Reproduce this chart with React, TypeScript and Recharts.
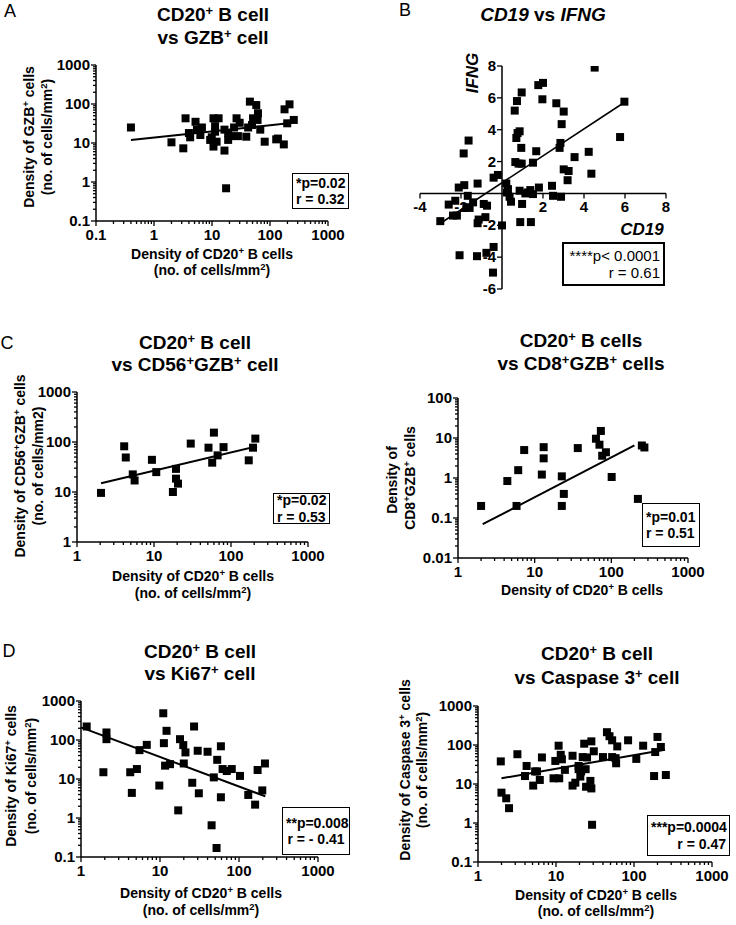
import React from "react"
import { ScatterChart, Scatter, XAxis, YAxis, ZAxis, ReferenceLine } from "recharts"

const FONT = '"Liberation Sans", Arial, Helvetica, sans-serif'

// A: CD20+ B cell vs GZB+ cell
const aCd20 = [0.4, 2.0, 3.2, 3.5, 4.0, 4.2, 5.2, 5.5, 6.3, 6.7, 9.3, 9.9, 10.6, 10.6, 11.3, 11.3, 12, 13, 16.4, 16.4, 19, 19, 21, 24, 26.5, 28, 30, 39, 45, 42, 49, 51, 58, 62, 61, 68, 81, 128, 137, 178, 217, 173, 198, 257, 17.5]
const aGzb = [25, 10.4, 7.3, 43, 18, 14, 35, 22, 16, 25, 12, 14, 43, 8.1, 27, 19.5, 10.8, 43, 6.4, 22, 18, 12, 15, 25, 43, 15, 33, 14.5, 115, 25, 29, 43, 94, 58, 39, 22, 10.8, 12.4, 13, 73, 98, 9.2, 32, 39, 0.69]
const aFitX = [0.4, 250]
const aFitY = [12, 33]
const aDecX = [0.1, 1, 10, 100, 1000]
const aDecY = [0.1, 1, 10, 100, 1000]

// B: CD19 vs IFNG
const bCd19 = [-3.01, -2.6, -2.39, -2.2, -2.28, -2.11, -2.07, -1.87, -1.84, -1.74, -1.67, -1.63, -1.58, -1.41, -1.19, -1.19, -1.14, -1.22, -0.89, -0.81, -0.76, -0.73, -0.41, -0.41, -0.44, -0.2, 0, 0.21, 0.24, 0.29, 0.37, 0.44, 0.62, 0.65, 0.73, 0.7, 0.76, 0.86, 0.81, 0.86, 0.89, 0.96, 0.94, 0.96, 0.98, 1.14, 1.27, 1.38, 1.41, 1.51, 1.51, 1.67, 1.77, 1.8, 2.0, 1.97, 2.44, 2.49, 2.65, 2.81, 2.85, 2.88, 2.91, 3.01, 3.01, 3.2, 3.25, 3.54, 4.23, 4.36, 4.52, 5.76, 5.97]
const bIfng = [-1.74, -0.7, -1.39, -1.39, -0.46, 0.37, -3.88, 2.51, 0.52, -0.87, -0.15, 3.32, -0.91, -0.56, 0.62, -1.87, -1.64, -3.94, -0.66, -1.49, -3.73, -0.77, 0.99, -3.36, -4.97, 1.16, -2.01, 0.62, 0.06, 0.27, -0.21, -0.52, 5.2, 1.97, 5.8, 3.48, 3.79, 3.9, 1.87, 0.17, -1.8, 6.34, 2.86, 1.87, -0.66, 0, 0.06, 0.21, -1.8, 1.93, -0.04, 2.65, 6.8, 0.37, 6.94, 5.91, 0.48, -0.15, 5.66, 2.86, 3.17, -0.21, 4.35, 5.14, 1.51, 0.83, 1.41, 2.28, 2.61, 1.24, 7.9, 3.54, 5.76]
const bFitX = [-3.0, 6.07]
const bFitY = [-1.87, 5.8]
const bTicksX = [-4, -2, 2, 4, 6, 8]
const bTicksY = [8, 6, 4, 2, -2, -4, -6]

// C left: CD20+ vs CD56+GZB+
const cCd20 = [2.05, 4.1, 4.3, 5.3, 5.6, 9.4, 10.7, 17.6, 19.3, 19.3, 20.5, 30, 51, 57, 60, 67, 80, 170, 193, 207]
const cCd56 = [9.6, 82, 49, 22.5, 17, 44, 25, 10, 29, 18.5, 14.7, 93, 77, 38.6, 154, 54, 79, 43, 77, 117]
const cFitX = [2.05, 218]
const cFitY = [15, 82]
const cDecX = [1, 10, 100, 1000]
const cDecY = [1, 10, 100, 1000]

// C right: CD20+ vs CD8+GZB+
const c2Cd20 = [2.0, 4.4, 5.8, 6.1, 7.3, 12.4, 13.1, 13.1, 22.6, 22.6, 24, 36.5, 63, 70, 73, 76, 85, 101, 222, 250, 270]
const c2Cd8 = [0.2, 0.84, 0.2, 1.57, 5.0, 1.22, 5.9, 3.1, 1.1, 0.2, 0.4, 5.6, 9.6, 6.8, 15, 3.6, 4.4, 1.06, 0.3, 6.5, 5.8]
const c2FitX = [2.1, 200]
const c2FitY = [0.07, 6.5]
const c2DecX = [1, 10, 100, 1000]
const c2DecY = [0.01, 0.1, 1, 10, 100]

// D left: CD20+ vs Ki67+
const dCd20 = [1.18, 1.92, 2.1, 2.1, 4.2, 4.4, 5.1, 5.5, 6.8, 9.8, 11, 11.2, 11.6, 12.1, 13.4, 17, 17.9, 19.7, 20, 21, 25.6, 27, 30, 31, 40, 45, 48, 53, 59, 59, 62, 70, 81, 103, 131, 160, 172, 197, 213, 52]
const dKi67 = [222, 14.9, 156, 105, 14.9, 4.4, 18, 55, 75, 6.8, 485, 83, 22, 172, 24, 1.57, 105, 74, 25, 48, 8, 222, 53, 4.3, 50, 0.65, 11, 31, 69, 3.4, 18, 16, 18, 12, 3.9, 2.2, 17, 5.1, 25, 0.17]
const dFitX = [1, 215]
const dFitY = [210, 3.6]
const dDecX = [1, 10, 100, 1000]
const dDecY = [0.1, 1, 10, 100, 1000]

// D right: CD20+ vs Caspase 3+
const eCd20 = [1.96, 2.0, 2.3, 2.5, 3.2, 4.2, 4.0, 5.1, 5.4, 5.7, 6.2, 6.6, 9.3, 9.8, 10.8, 11, 11.5, 11.9, 13, 16.3, 16.3, 17.7, 19.5, 19.5, 20.5, 21, 22, 23, 24, 24.3, 25, 27.6, 28.4, 28.4, 29, 30.5, 40, 45, 48.5, 52.5, 52.5, 58, 59, 61, 84, 107, 131, 181, 187, 200, 221, 256]
const eCasp = [38, 6.0, 4.3, 2.4, 58, 29, 16, 9.1, 21, 21, 12.7, 48, 14, 39, 96, 14, 56, 43, 23, 53, 9.1, 10.8, 24, 29, 15.5, 21, 49, 108, 24, 8.5, 48, 12, 124, 7.7, 0.9, 69, 49, 213, 168, 132, 49, 46, 34, 92, 132, 44, 96, 16, 66, 161, 89, 17]
const eFitX = [2, 250]
const eFitY = [14, 76]
const eDecX = [1, 10, 100, 1000]
const eDecY = [0.1, 1, 10, 100, 1000]

const YW = 60
const MT = 12
const MR = 20
const XH = 40
const TICK_FONT = 15

function zip(xs: number[], ys: number[]) {
	return xs.map((x, i) => ({ x, y: ys[i] }))
}

function logTicks(decades: number[]) {
	const out: number[] = []
	decades.forEach((d, i) => {
		out.push(d)
		if (i < decades.length - 1) {
			for (let m = 2; m <= 9; m++) out.push(Number((d * m).toPrecision(4)))
		}
	})
	return out
}

function isDecade(v: number) {
	const l = Math.log10(v)
	return Math.abs(l - Math.round(l)) < 1e-6
}

function XLogTick(props: any) {
	const { x, y, payload } = props
	const major = isDecade(payload.value)
	return (
		<g>
			<line x1={x} x2={x} y1={y} y2={y + (major ? 5 : 3)} stroke="#000" strokeWidth={1.3} />
			{major && (
				<text x={x} y={y + 19} textAnchor="middle" fontSize={TICK_FONT} fontWeight="bold" fontFamily={FONT} fill="#000">
					{String(payload.value)}
				</text>
			)}
		</g>
	)
}

function YLogTick(props: any) {
	const { x, y, payload } = props
	const major = isDecade(payload.value)
	return (
		<g>
			<line x1={x} x2={x - (major ? 5 : 3)} y1={y} y2={y} stroke="#000" strokeWidth={1.3} />
			{major && (
				<text x={x - 6} y={y + 5} textAnchor="end" fontSize={TICK_FONT} fontWeight="bold" fontFamily={FONT} fill="#000">
					{String(payload.value)}
				</text>
			)}
		</g>
	)
}

type LogPanelProps = {
	left: number
	top: number
	width: number
	height: number
	xDec: number[]
	yDec: number[]
	points: { x: number; y: number }[]
	fit: { x: number; y: number }[]
}

function LogPanel({ left, top, width, height, xDec, yDec, points, fit }: LogPanelProps) {
	return (
		<div style={{ position: "absolute", left: left - YW, top: top - MT }}>
			<ScatterChart width={width + YW + MR} height={height + MT + XH} margin={{ top: MT, right: MR, bottom: 0, left: 0 }}>
				<XAxis
					type="number"
					dataKey="x"
					scale="log"
					domain={[xDec[0], xDec[xDec.length - 1]]}
					ticks={logTicks(xDec)}
					interval={0}
					allowDataOverflow
					height={XH}
					tickSize={0}
					tickMargin={0}
					tickLine={false}
					axisLine={{ stroke: "#000", strokeWidth: 1.5 }}
					tick={XLogTick}
				/>
				<YAxis
					type="number"
					dataKey="y"
					scale="log"
					domain={[yDec[0], yDec[yDec.length - 1]]}
					ticks={logTicks(yDec)}
					interval={0}
					allowDataOverflow
					width={YW}
					tickSize={0}
					tickMargin={0}
					tickLine={false}
					axisLine={{ stroke: "#000", strokeWidth: 1.5 }}
					tick={YLogTick}
				/>
				<ZAxis range={[38, 38]} />
				<Scatter data={points} fill="#000" shape="square" isAnimationActive={false} />
				<ReferenceLine segment={fit} stroke="#000" strokeWidth={2} ifOverflow="visible" />
			</ScatterChart>
		</div>
	)
}

function BPanel() {
	const left = 420
	const top = 66
	const w = 246
	const h = 223
	const zeroY = MT + (8 / 14) * h
	const zeroX = YW + (4 / 12) * w
	return (
		<div style={{ position: "absolute", left: left - YW, top: top - MT }}>
			<ScatterChart width={w + YW + MR} height={h + MT + XH} margin={{ top: MT, right: MR, bottom: 0, left: 0 }}>
				<XAxis
					type="number"
					dataKey="x"
					domain={[-4, 8]}
					ticks={bTicksX}
					interval={0}
					allowDataOverflow
					height={XH}
					axisLine={false}
					tickLine={false}
					tickSize={0}
					tickMargin={0}
					tick={(p: any) => (
						<g>
							<line x1={p.x} x2={p.x} y1={zeroY} y2={zeroY + 5} stroke="#000" strokeWidth={1.3} />
							<text x={p.x} y={zeroY + 19} textAnchor="middle" fontSize={TICK_FONT} fontWeight="bold" fontFamily={FONT} fill="#000">
								{String(p.payload.value)}
							</text>
						</g>
					)}
				/>
				<YAxis
					type="number"
					dataKey="y"
					domain={[-6, 8]}
					ticks={bTicksY}
					interval={0}
					allowDataOverflow
					width={YW}
					axisLine={false}
					tickLine={false}
					tickSize={0}
					tickMargin={0}
					tick={(p: any) => (
						<g>
							<line x1={zeroX} x2={zeroX - 5} y1={p.y} y2={p.y} stroke="#000" strokeWidth={1.3} />
							<text x={zeroX - 6} y={p.y + 5} textAnchor="end" fontSize={TICK_FONT} fontWeight="bold" fontFamily={FONT} fill="#000">
								{String(p.payload.value)}
							</text>
						</g>
					)}
				/>
				<ZAxis range={[38, 38]} />
				<ReferenceLine y={0} stroke="#000" strokeWidth={1.5} />
				<ReferenceLine x={0} stroke="#000" strokeWidth={1.5} />
				<Scatter data={zip(bCd19, bIfng)} fill="#000" shape="square" isAnimationActive={false} />
				<ReferenceLine segment={zip(bFitX, bFitY)} stroke="#000" strokeWidth={1.6} ifOverflow="visible" />
			</ScatterChart>
		</div>
	)
}

type TxtProps = {
	x: number
	y: number
	size?: number
	bold?: boolean
	italic?: boolean
	rotate?: boolean
	children: React.ReactNode
}

function Txt({ x, y, size = 14, bold = true, italic = false, rotate = false, children }: TxtProps) {
	return (
		<div
			style={{
				position: "absolute",
				left: x,
				top: y,
				transform: `translate(-50%, -50%)${rotate ? " rotate(-90deg)" : ""}`,
				fontSize: size,
				fontWeight: bold ? 700 : 400,
				fontStyle: italic ? "italic" : "normal",
				whiteSpace: "nowrap",
				lineHeight: 1,
				fontFamily: FONT,
				color: "#000",
			}}
		>
			{children}
		</div>
	)
}

const Sup = ({ children }: { children: React.ReactNode }) => (
	<span style={{ fontSize: "0.68em", position: "relative", top: "-0.5em" }}>{children}</span>
)

type BoxProps = {
	x: number
	y: number
	w: number
	h: number
	lines: string[]
	align?: "left" | "right" | "center"
	size?: number
	bold?: boolean
	border?: number
}

function StatBox({ x, y, w, h, lines, align = "left", size = 14, bold = true, border = 1.5 }: BoxProps) {
	return (
		<div
			style={{
				position: "absolute",
				left: x,
				top: y,
				width: w,
				height: h,
				boxSizing: "border-box",
				border: `${border}px solid #000`,
				background: "#fff",
				display: "flex",
				flexDirection: "column",
				justifyContent: "center",
				padding: "0 3px",
				textAlign: align,
				fontSize: size,
				fontWeight: bold ? 700 : 400,
				fontFamily: FONT,
				lineHeight: 1.15,
				whiteSpace: "pre",
			}}
		>
			{lines.map((l) => (
				<div key={l}>{l}</div>
			))}
		</div>
	)
}

export default function App() {
	return (
		<div style={{ position: "absolute", left: 0, top: 0, width: 736, height: 925, background: "#fff", overflow: "hidden" }}>
			{/* A */}
			<LogPanel left={96} top={65} width={232} height={156} xDec={aDecX} yDec={aDecY} points={zip(aCd20, aGzb)} fit={zip(aFitX, aFitY)} />
			<Txt x={10} y={11} size={18} bold={false}>A</Txt>
			<Txt x={213} y={14} size={19}>CD20<Sup>+</Sup> B cell</Txt>
			<Txt x={213} y={37} size={19}>vs GZB<Sup>+</Sup> cell</Txt>
			<Txt x={29} y={137} rotate>Density of GZB<Sup>+</Sup> cells</Txt>
			<Txt x={47} y={137} rotate>(no. of cells/mm<Sup>2</Sup>)</Txt>
			<Txt x={212} y={254}>Density of CD20<Sup>+</Sup> B cells</Txt>
			<Txt x={212} y={270}>(no. of cells/mm<Sup>2</Sup>)</Txt>
			<StatBox x={292} y={173} w={57} h={36} lines={["*p=0.02", "r = 0.32"]} />

			{/* B */}
			<BPanel />
			<Txt x={405} y={10} size={18} bold={false}>B</Txt>
			<Txt x={543} y={14} size={19}><i>CD19</i> vs <i>IFNG</i></Txt>
			<Txt x={472} y={73} size={17} italic rotate>IFNG</Txt>
			<Txt x={642} y={229} size={17} italic>CD19</Txt>
			<StatBox x={562} y={242} w={103} h={44} lines={["****p< 0.0001", "r = 0.61"]} align="right" size={15} bold={false} border={2.5} />

			{/* C left */}
			<LogPanel left={77} top={392} width={231} height={150} xDec={cDecX} yDec={cDecY} points={zip(cCd20, cCd56)} fit={zip(cFitX, cFitY)} />
			<Txt x={7} y={343} size={18} bold={false}>C</Txt>
			<Txt x={195} y={342} size={19}>CD20<Sup>+</Sup> B cell</Txt>
			<Txt x={195} y={364} size={19}>vs CD56<Sup>+</Sup>GZB<Sup>+</Sup> cell</Txt>
			<Txt x={20} y={466} rotate>Density of CD56<Sup>+</Sup>GZB<Sup>+</Sup> cells</Txt>
			<Txt x={38} y={466} rotate>(no. of cells/mm2)</Txt>
			<Txt x={193} y={576}>Density of CD20<Sup>+</Sup> B cells</Txt>
			<Txt x={193} y={593}>(no. of cells/mm<Sup>2</Sup>)</Txt>
			<StatBox x={273} y={493} w={57} h={31} lines={["*p=0.02", "r = 0.53"]} />

			{/* C right */}
			<LogPanel left={458} top={398} width={230} height={160} xDec={c2DecX} yDec={c2DecY} points={zip(c2Cd20, c2Cd8)} fit={zip(c2FitX, c2FitY)} />
			<Txt x={581} y={340} size={19}>CD20<Sup>+</Sup> B cells</Txt>
			<Txt x={581} y={363} size={19}>vs CD8<Sup>+</Sup>GZB<Sup>+</Sup> cells</Txt>
			<Txt x={392} y={480} rotate>Density of</Txt>
			<Txt x={410} y={478} rotate>CD8<Sup>+</Sup>GZB<Sup>+</Sup> cells</Txt>
			<Txt x={582} y={590}>Density of CD20<Sup>+</Sup> B cells</Txt>
			<StatBox x={642} y={503} w={58} h={44} lines={["*p=0.01", "r = 0.51"]} />

			{/* D left */}
			<LogPanel left={81} top={701} width={237} height={156} xDec={dDecX} yDec={dDecY} points={zip(dCd20, dKi67)} fit={zip(dFitX, dFitY)} />
			<Txt x={9} y={651} size={18} bold={false}>D</Txt>
			<Txt x={200} y={651} size={19}>CD20<Sup>+</Sup> B cell</Txt>
			<Txt x={200} y={673} size={19}>vs Ki67<Sup>+</Sup> cell</Txt>
			<Txt x={11} y={776} rotate>Density of Ki67<Sup>+</Sup> cells</Txt>
			<Txt x={31} y={776} rotate>(no. of cells/mm<Sup>2</Sup>)</Txt>
			<Txt x={201} y={893}>Density of CD20<Sup>+</Sup> B cells</Txt>
			<Txt x={201} y={910}>(no. of cells/mm<Sup>2</Sup>)</Txt>
			<StatBox x={282} y={807} w={68} h={48} lines={["**p=0.008", "r = - 0.41"]} align="center" />

			{/* D right */}
			<LogPanel left={478} top={706} width={234} height={156} xDec={eDecX} yDec={eDecY} points={zip(eCd20, eCasp)} fit={zip(eFitX, eFitY)} />
			<Txt x={597} y={653} size={19}>CD20<Sup>+</Sup> B cell</Txt>
			<Txt x={597} y={677} size={19}>vs Caspase 3<Sup>+</Sup> cell</Txt>
			<Txt x={405} y={770} rotate>Density of Caspase 3<Sup>+</Sup> cells</Txt>
			<Txt x={422} y={770} rotate>(no. of cells/mm<Sup>2</Sup>)</Txt>
			<Txt x={596} y={895}>Density of CD20<Sup>+</Sup> B cells</Txt>
			<Txt x={596} y={911}>(no. of cells/mm<Sup>2</Sup>)</Txt>
			<StatBox x={647} y={815} w={83} h={41} lines={["***p=0.0004", "r = 0.47"]} align="right" />
		</div>
	)
}
